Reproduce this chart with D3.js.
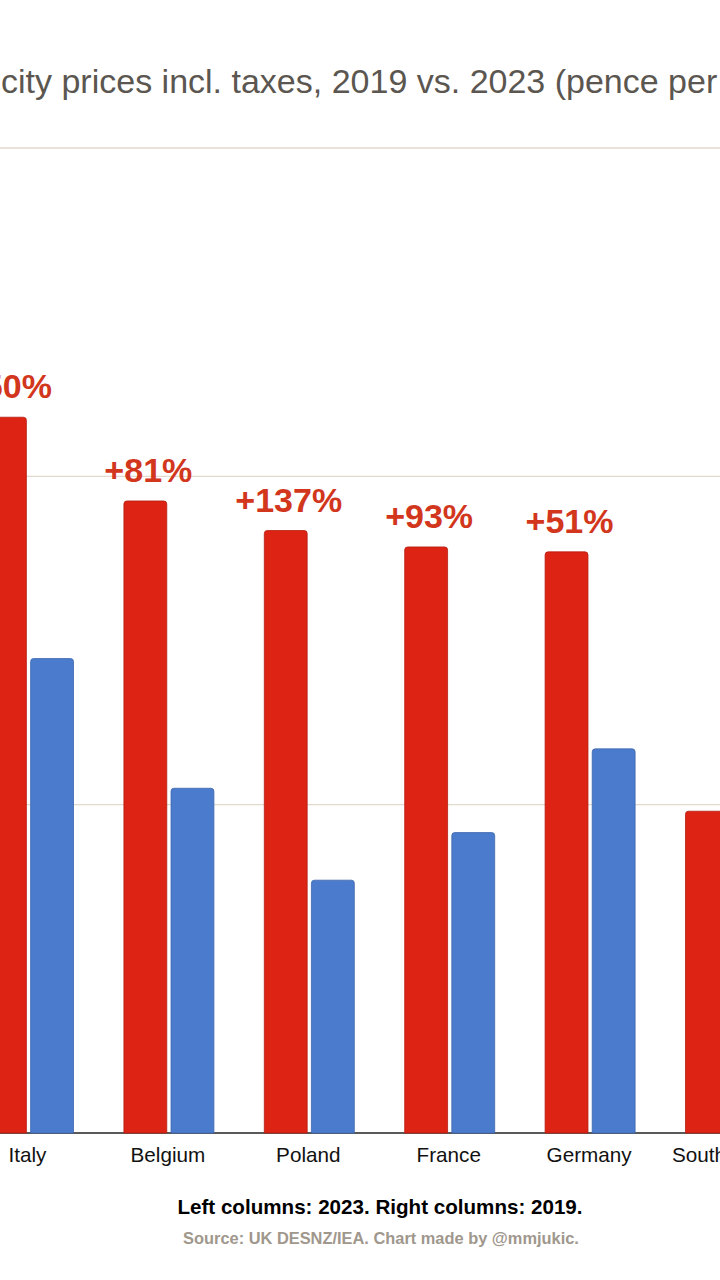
<!DOCTYPE html>
<html><head><meta charset="utf-8">
<script src="https://cdn.jsdelivr.net/npm/d3@7"></script>
<style>html,body{margin:0;padding:0;background:#fff;overflow:hidden}svg{display:block}</style>
</head><body>
<svg id="c" width="720" height="1280"></svg>
<script>
const categories = ["Italy","Belgium","Poland","France","Germany","South Korea"];
const prices2023 = [43.6, 38.5, 36.7, 35.7, 35.4, 19.6];
const prices2019 = [28.9, 21.0, 15.4, 18.3, 23.4, null];
const changeLabels = ["+50%","+81%","+137%","+93%","+51%",null];
const yTicks = [0, 20, 40, 60];
const series = ["2023","2019"];

const svg = d3.select("#c");
const font = "'Liberation Sans', Arial, sans-serif";
const step = 140.4, firstCenter = 28.5;
const x0 = d3.scaleBand().domain(categories)
  .range([firstCenter - step/2, firstCenter - step/2 + categories.length*step]).padding(0);
const x1 = d3.scaleBand().domain(series).range([25.2, 115.2]).paddingInner(0.09).paddingOuter(0);
const y = d3.scaleLinear().domain([0, 60]).range([1133, 148]);

// title (full text, left part cropped as in the reference)
const titleFull = "Household electricity prices incl. taxes, 2019 vs. 2023 (pence per kWh)";
const hidden = "Household electri";
const tfs = 34;
const tmp = svg.append("text").attr("font-family", font).attr("font-size", tfs).text(hidden);
const hw = tmp.node().getComputedTextLength(); tmp.remove();
svg.append("text").attr("x", -hw + 1).attr("y", 93).attr("font-family", font)
  .attr("font-size", tfs).attr("fill", "#5b5650").text(titleFull);

// gridlines
svg.append("g").selectAll("line").data(yTicks.filter(d => d > 0)).join("line")
  .attr("x1", 0).attr("x2", 720).attr("y1", d => y(d)).attr("y2", d => y(d))
  .attr("stroke", "#e3d9cc").attr("stroke-width", 1.3);

// baseline
svg.append("line").attr("x1", 0).attr("x2", 720).attr("y1", y(0)).attr("y2", y(0))
  .attr("stroke", "#222").attr("stroke-width", 1.6);

function barPath(x, w, top, bottom, r) {
  return `M${x},${bottom}V${top + r}Q${x},${top} ${x + r},${top}H${x + w - r}Q${x + w},${top} ${x + w},${top + r}V${bottom}Z`;
}

const rows = categories.map((c, i) => ({c, v: {"2023": prices2023[i], "2019": prices2019[i]}, lab: changeLabels[i]}));
const colors = {"2023": "#dc2314", "2019": "#4b7bcd"};
const strokes = {"2023": "#b51d10", "2019": "#3c66ad"};

const g = svg.append("g").selectAll("g").data(rows).join("g")
  .attr("transform", d => `translate(${x0(d.c)},0)`);
g.selectAll("path").data(d => series.filter(s => d.v[s] != null).map(s => ({s, v: d.v[s]}))).join("path")
  .attr("d", d => barPath(x1(d.s), x1.bandwidth(), y(d.v), y(0), 3))
  .attr("fill", d => colors[d.s]).attr("stroke", d => strokes[d.s]).attr("stroke-width", 0.8);

g.filter(d => d.lab).append("text")
  .attr("x", x1("2023") + x1.bandwidth()/2 + 3)
  .attr("y", d => y(d.v["2023"]) - 19)
  .attr("text-anchor", "middle").attr("font-family", font).attr("font-weight", "bold")
  .attr("font-size", 34).attr("fill", "#d2361c").text(d => d.lab);

// category labels
svg.append("g").selectAll("text").data(categories).join("text")
  .attr("x", d => x0(d) + x0.bandwidth()/2 - 1).attr("y", 1162)
  .attr("text-anchor", "middle").attr("font-family", font).attr("font-size", 20.7)
  .attr("fill", "#111").text(d => d);

svg.append("text").attr("x", 380).attr("y", 1214).attr("text-anchor", "middle")
  .attr("font-family", font).attr("font-weight", "bold").attr("font-size", 20.6)
  .attr("fill", "#000").text("Left columns: 2023. Right columns: 2019.");
svg.append("text").attr("x", 381).attr("y", 1244).attr("text-anchor", "middle")
  .attr("font-family", font).attr("font-weight", "bold").attr("font-size", 16.4)
  .attr("fill", "#a0978d").text("Source: UK DESNZ/IEA. Chart made by @mmjukic.");
</script>
</body></html>
